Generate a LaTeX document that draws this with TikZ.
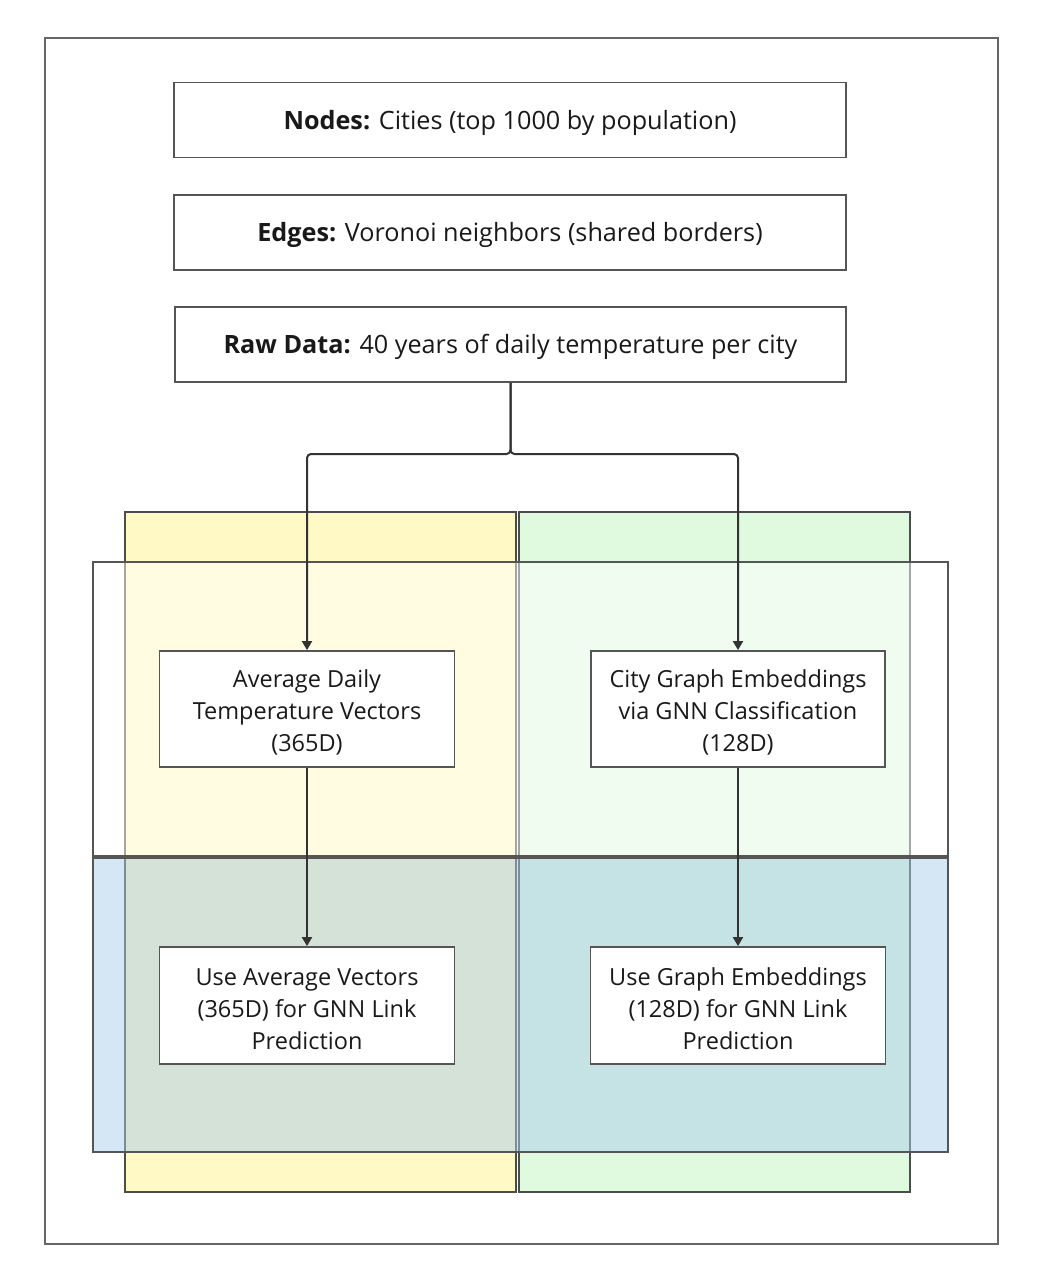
\documentclass[tikz,border=0pt]{standalone}
\usepackage{fontspec}
\setmainfont{Open Sans}
\usetikzlibrary{arrows.meta}
\definecolor{frame}{HTML}{666666}
\definecolor{boxline}{HTML}{555555}
\definecolor{arrowc}{HTML}{333333}
\definecolor{yellowc}{HTML}{FFF9C6}
\definecolor{greenc}{HTML}{E0FAE0}
\definecolor{bluec}{HTML}{ABCDEB}
\newcommand\mytopstrut{\rule{0pt}{24.5pt}}
\newcommand\mysmallstrut{\rule{0pt}{24pt}}
\tikzset{
  textbox/.style={draw=boxline, line width=1.8pt, fill=white, align=center,
    font=\fontsize{23.5}{32}\selectfont, text=black!90, inner sep=0pt},
  widebox/.style={textbox, font=\fontsize{25.2}{32}\selectfont, minimum width=672pt, minimum height=75pt,
    execute at begin node=\mytopstrut},
  smallbox/.style={textbox, minimum width=295pt, minimum height=116pt},
  colrect/.style={draw=boxline!90!black, line width=2.5pt},
  rowrect/.style={draw=boxline, line width=2.5pt, fill opacity=0.5},
  conn/.style={draw=arrowc, line width=2pt, rounded corners=4pt},
  tip/.style={-{Triangle[length=9pt,width=10pt]}}
}
\begin{document}
\begin{tikzpicture}[x=1pt,y=-1pt]
\useasboundingbox (0,0) rectangle (1055,1275);
% outer frame
\draw[draw=frame, line width=1.8pt] (45,38) rectangle (998,1244);
% columns
\draw[colrect, fill=yellowc] (125,512) rectangle (516,1192);
\draw[colrect, fill=greenc] (519,512) rectangle (910,1192);
% rows
\draw[rowrect, fill=white] (93,562) rectangle (948,856);
\draw[rowrect, fill=bluec] (93,858) rectangle (948,1152);
% boxes
\node[widebox] (nodes) at (510,120) {\textbf{Nodes:} Cities (top 1000 by population)};
\node[widebox] (edges) at (510,232.5) {\textbf{Edges:} Voronoi neighbors (shared borders)};
\node[widebox, minimum width=671pt] (raw) at (510.5,344.5) {\textbf{Raw Data:} 40 years of daily temperature per city};
\node[smallbox] (avg) at (307,709) {\mysmallstrut Average Daily\\Temperature Vectors\\(365D)};
\node[smallbox, minimum width=294pt] (city) at (738,709) {\mysmallstrut City Graph Embeddings\\via GNN Classification\\(128D)};
\node[smallbox, minimum height=117pt] (useavg) at (307,1005.5) {\mysmallstrut Use Average Vectors\\(365D) for GNN Link\\Prediction};
\node[smallbox, minimum height=117pt] (usegraph) at (738,1005.5) {\mysmallstrut Use Graph Embeddings\\(128D) for GNN Link\\Prediction};
% connectors
\coordinate (split) at (raw.south |- 0,454);
\draw[conn, tip] (raw.south) -- (split) -| (avg.north);
\draw[conn, tip] (raw.south) -- (split) -| (city.north);
\draw[conn, tip] (avg.south) -- (useavg.north);
\draw[conn, tip] (city.south) -- (usegraph.north);
\end{tikzpicture}
\end{document}
